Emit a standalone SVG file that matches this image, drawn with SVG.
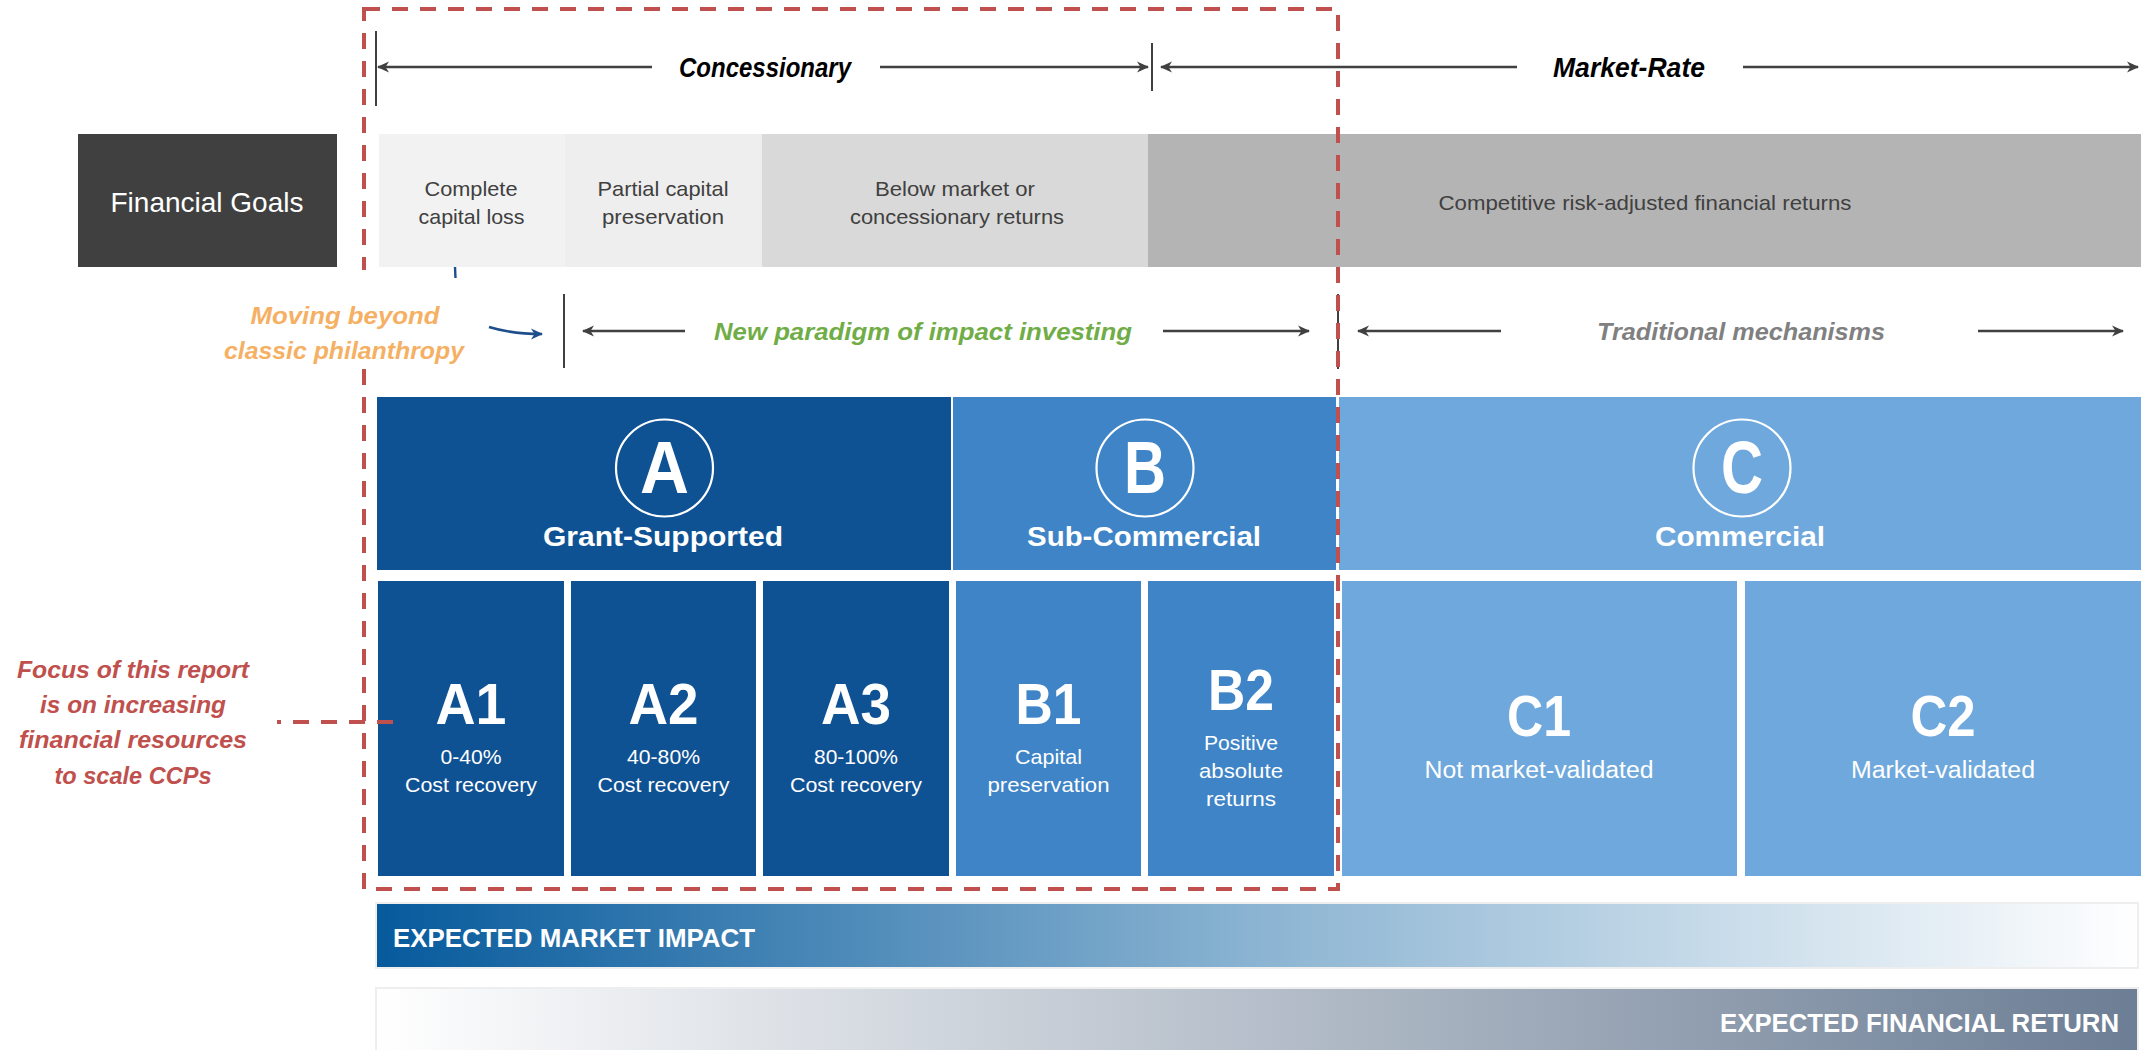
<svg xmlns="http://www.w3.org/2000/svg" width="2141" height="1050" viewBox="0 0 2141 1050">
<style>
  text { font-family: "Liberation Sans", Arial, sans-serif; }
  .g { fill: #404040; font-size: 21px; text-anchor: middle; }
  .hdr { fill: #000000; font-size: 28px; font-weight: bold; font-style: italic; text-anchor: middle; }
  .wt { fill: #ffffff; text-anchor: middle; }
  .cat { font-size: 28px; font-weight: bold; }
  .big { font-size: 74px; font-weight: bold; }
  .code { font-size: 58px; font-weight: bold; }
  .sub { font-size: 21px; }
  .csub { font-size: 23px; }
  .arr { stroke: #404040; stroke-width: 2.6; fill: none; }
  .tick { stroke: #404040; stroke-width: 2; }
  .ring { fill: none; stroke: #ffffff; stroke-width: 2.2; }
  .bi { font-weight: bold; font-style: italic; font-size: 24px; text-anchor: middle; }
</style>
<defs>
  <marker id="ah" markerWidth="12" markerHeight="12" refX="11" refY="6" orient="auto-start-reverse" markerUnits="userSpaceOnUse">
    <path d="M0,0.5 L12,6 L0,11.5 L3.5,6 Z" fill="#404040"/>
  </marker>
  <marker id="ahb" markerWidth="12" markerHeight="12" refX="11" refY="6" orient="auto" markerUnits="userSpaceOnUse">
    <path d="M0,0.5 L12,6 L0,11.5 L3.5,6 Z" fill="#1f4e8c"/>
  </marker>
  <linearGradient id="gImpact" x1="0" y1="0" x2="1" y2="0">
    <stop offset="0" stop-color="#065a9c"/>
    <stop offset="0.5" stop-color="#8bb4d2"/>
    <stop offset="1" stop-color="#ffffff"/>
  </linearGradient>
  <linearGradient id="gReturn" x1="0" y1="0" x2="1" y2="0">
    <stop offset="0" stop-color="#ffffff"/>
    <stop offset="1" stop-color="#6c7e95"/>
  </linearGradient>
</defs>
<rect width="2141" height="1050" fill="#ffffff"/>

<g id="financial-goals">
  <rect x="78" y="134" width="259" height="133" fill="#404040"/>
  <text x="207" y="212" class="wt" font-size="28" textLength="193" lengthAdjust="spacingAndGlyphs">Financial Goals</text>
</g>
<g id="goal-complete-loss">
  <rect x="379" y="134" width="186" height="133" fill="#f2f2f2"/>
  <text x="471" y="196" class="g" textLength="93" lengthAdjust="spacingAndGlyphs">Complete</text>
  <text x="471.5" y="224" class="g" textLength="106" lengthAdjust="spacingAndGlyphs">capital loss</text>
</g>
<g id="goal-partial">
  <rect x="565" y="134" width="197" height="133" fill="#eeeeee"/>
  <text x="663" y="196" class="g" textLength="131" lengthAdjust="spacingAndGlyphs">Partial capital</text>
  <text x="663" y="224" class="g" textLength="122" lengthAdjust="spacingAndGlyphs">preservation</text>
</g>
<g id="goal-below-market">
  <rect x="762" y="134" width="386" height="133" fill="#d9d9d9"/>
  <text x="955" y="196" class="g" textLength="160" lengthAdjust="spacingAndGlyphs">Below market or</text>
  <text x="957" y="224" class="g" textLength="214" lengthAdjust="spacingAndGlyphs">concessionary returns</text>
</g>
<g id="goal-competitive">
  <rect x="1148" y="134" width="993" height="133" fill="#b4b4b4"/>
  <text x="1645" y="210" class="g" textLength="413" lengthAdjust="spacingAndGlyphs">Competitive risk-adjusted financial returns</text>
</g>

<g id="label-concessionary">
  <text x="765" y="77" class="hdr" textLength="172" lengthAdjust="spacingAndGlyphs">Concessionary</text>
</g>
<g id="label-market-rate">
  <text x="1629" y="77" class="hdr" textLength="152" lengthAdjust="spacingAndGlyphs">Market-Rate</text>
</g>
<g id="label-new-paradigm">
  <text x="923" y="340" class="bi" fill="#70ad47" textLength="418" lengthAdjust="spacingAndGlyphs">New paradigm of impact investing</text>
</g>
<g id="label-traditional">
  <text x="1741" y="340" class="bi" fill="#808080" textLength="288" lengthAdjust="spacingAndGlyphs">Traditional mechanisms</text>
</g>

<g id="cat-A">
  <rect x="377" y="397" width="574" height="173" fill="#0f5294"/>
  <circle cx="664.5" cy="468" r="48.5" class="ring"/>
  <text x="664.5" y="493" class="wt big" textLength="49" lengthAdjust="spacingAndGlyphs">A</text>
  <text x="663" y="546" class="wt cat" textLength="240" lengthAdjust="spacingAndGlyphs">Grant-Supported</text>
</g>
<g id="cat-B">
  <rect x="953" y="397" width="383" height="173" fill="#3e84c6"/>
  <circle cx="1145" cy="468" r="48.5" class="ring"/>
  <text x="1145" y="493" class="wt big" textLength="42" lengthAdjust="spacingAndGlyphs">B</text>
  <text x="1144" y="546" class="wt cat" textLength="234" lengthAdjust="spacingAndGlyphs">Sub-Commercial</text>
</g>
<g id="cat-C">
  <rect x="1339" y="397" width="802" height="173" fill="#6fa8dc"/>
  <circle cx="1742" cy="468" r="48.5" class="ring"/>
  <text x="1742" y="493" class="wt big" textLength="42" lengthAdjust="spacingAndGlyphs">C</text>
  <text x="1740" y="546" class="wt cat" textLength="170" lengthAdjust="spacingAndGlyphs">Commercial</text>
</g>

<g id="cell-A1">
  <rect x="378" y="581" width="186" height="295" fill="#0f5294"/>
  <text x="471" y="724" class="wt code" textLength="71" lengthAdjust="spacingAndGlyphs">A1</text>
  <text x="471" y="764" class="wt sub" textLength="61" lengthAdjust="spacingAndGlyphs">0-40%</text>
  <text x="471" y="792" class="wt sub" textLength="132" lengthAdjust="spacingAndGlyphs">Cost recovery</text>
</g>
<g id="cell-A2">
  <rect x="571" y="581" width="185" height="295" fill="#0f5294"/>
  <text x="663.5" y="724" class="wt code" textLength="70" lengthAdjust="spacingAndGlyphs">A2</text>
  <text x="663.5" y="764" class="wt sub" textLength="73" lengthAdjust="spacingAndGlyphs">40-80%</text>
  <text x="663.5" y="792" class="wt sub" textLength="132" lengthAdjust="spacingAndGlyphs">Cost recovery</text>
</g>
<g id="cell-A3">
  <rect x="763" y="581" width="186" height="295" fill="#0f5294"/>
  <text x="856" y="724" class="wt code" textLength="70" lengthAdjust="spacingAndGlyphs">A3</text>
  <text x="856" y="764" class="wt sub" textLength="84" lengthAdjust="spacingAndGlyphs">80-100%</text>
  <text x="856" y="792" class="wt sub" textLength="132" lengthAdjust="spacingAndGlyphs">Cost recovery</text>
</g>
<g id="cell-B1">
  <rect x="956" y="581" width="185" height="295" fill="#3e84c6"/>
  <text x="1048.5" y="724" class="wt code" textLength="66" lengthAdjust="spacingAndGlyphs">B1</text>
  <text x="1048.5" y="764" class="wt sub" textLength="67" lengthAdjust="spacingAndGlyphs">Capital</text>
  <text x="1048.5" y="792" class="wt sub" textLength="122" lengthAdjust="spacingAndGlyphs">preservation</text>
</g>
<g id="cell-B2">
  <rect x="1148" y="581" width="186" height="295" fill="#3e84c6"/>
  <text x="1241" y="710" class="wt code" textLength="66" lengthAdjust="spacingAndGlyphs">B2</text>
  <text x="1241" y="750" class="wt sub" textLength="74" lengthAdjust="spacingAndGlyphs">Positive</text>
  <text x="1241" y="778" class="wt sub" textLength="84" lengthAdjust="spacingAndGlyphs">absolute</text>
  <text x="1241" y="806" class="wt sub" textLength="70" lengthAdjust="spacingAndGlyphs">returns</text>
</g>
<g id="cell-C1">
  <rect x="1342" y="581" width="395" height="295" fill="#6fa8dc"/>
  <text x="1539" y="736" class="wt code" textLength="64" lengthAdjust="spacingAndGlyphs">C1</text>
  <text x="1539" y="778" class="wt csub" textLength="229" lengthAdjust="spacingAndGlyphs">Not market-validated</text>
</g>
<g id="cell-C2">
  <rect x="1745" y="581" width="396" height="295" fill="#6fa8dc"/>
  <text x="1943" y="736" class="wt code" textLength="65" lengthAdjust="spacingAndGlyphs">C2</text>
  <text x="1943" y="778" class="wt csub" textLength="184" lengthAdjust="spacingAndGlyphs">Market-validated</text>
</g>

<g id="bar-market-impact">
  <rect x="376" y="903" width="1762" height="65" fill="url(#gImpact)" stroke="#eeeeee" stroke-width="2"/>
  <text x="393" y="947" fill="#ffffff" font-size="26" font-weight="bold" textLength="362" lengthAdjust="spacingAndGlyphs">EXPECTED MARKET IMPACT</text>
</g>
<g id="bar-financial-return">
  <rect x="376" y="988" width="1762" height="70" fill="url(#gReturn)" stroke="#eeeeee" stroke-width="2"/>
  <text x="2119" y="1032" fill="#ffffff" font-size="26" font-weight="bold" text-anchor="end" textLength="399" lengthAdjust="spacingAndGlyphs">EXPECTED FINANCIAL RETURN</text>
</g>

<g id="label-focus">
  <text x="133" y="678" class="bi" fill="#c0504d" font-size="23" textLength="232" lengthAdjust="spacingAndGlyphs">Focus of this report</text>
  <text x="133" y="713" class="bi" fill="#c0504d" font-size="23" textLength="186" lengthAdjust="spacingAndGlyphs">is on increasing</text>
  <text x="133" y="748" class="bi" fill="#c0504d" font-size="23" textLength="228" lengthAdjust="spacingAndGlyphs">financial resources</text>
  <text x="133" y="784" class="bi" fill="#c0504d" font-size="23" textLength="157" lengthAdjust="spacingAndGlyphs">to scale CCPs</text>
</g>

<g id="connectors">
  <!-- Concessionary span -->
  <line x1="376" y1="31" x2="376" y2="106" class="tick"/>
  <line x1="378" y1="67" x2="652" y2="67" class="arr" marker-start="url(#ah)"/>
  <line x1="880" y1="67" x2="1148" y2="67" class="arr" marker-end="url(#ah)"/>
  <line x1="1152" y1="43" x2="1152" y2="91" class="tick"/>
  <!-- Market-Rate span -->
  <line x1="1161" y1="67" x2="1517" y2="67" class="arr" marker-start="url(#ah)"/>
  <line x1="1743" y1="67" x2="2138" y2="67" class="arr" marker-end="url(#ah)"/>
  <!-- New paradigm span -->
  <line x1="564" y1="294" x2="564" y2="368" class="tick"/>
  <line x1="583" y1="331" x2="685" y2="331" class="arr" marker-start="url(#ah)"/>
  <line x1="1163" y1="331" x2="1309" y2="331" class="arr" marker-end="url(#ah)"/>
  <line x1="1338" y1="294" x2="1338" y2="369" class="tick"/>
  <!-- Traditional span -->
  <line x1="1358" y1="331" x2="1501" y2="331" class="arr" marker-start="url(#ah)"/>
  <line x1="1978" y1="331" x2="2123" y2="331" class="arr" marker-end="url(#ah)"/>
  <!-- Moving beyond pointer -->
  <line x1="455" y1="267" x2="455.5" y2="278" stroke="#1f4e8c" stroke-width="2.4"/>
  <path d="M489,327 Q512,334 542,334" stroke="#1f4e8c" stroke-width="2.6" fill="none" marker-end="url(#ahb)"/>
  <!-- Focus boundary -->
  <rect x="364" y="9" width="974" height="880" fill="none" stroke="#c0504d" stroke-width="4" stroke-dasharray="16 12"/>
  <line x1="393" y1="722" x2="277" y2="722" stroke="#c0504d" stroke-width="4" stroke-dasharray="16 12"/>
</g>

<g id="label-moving-beyond">
  <rect x="350" y="270" width="28" height="97" fill="#ffffff"/>
  <text x="345" y="324" class="bi" fill="#f5b064" textLength="189" lengthAdjust="spacingAndGlyphs">Moving beyond</text>
  <text x="344" y="359" class="bi" fill="#f5b064" textLength="240" lengthAdjust="spacingAndGlyphs">classic philanthropy</text>
</g>
</svg>
